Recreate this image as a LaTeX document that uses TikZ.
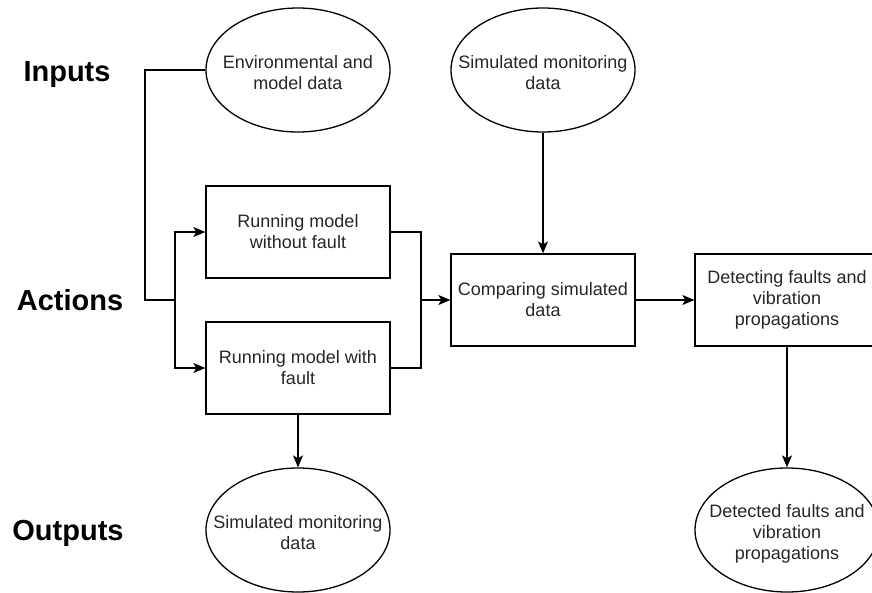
\documentclass[tikz,border=0pt]{standalone}
\usepackage{fontspec}
\setmainfont{Liberation Sans}
\usetikzlibrary{shapes.geometric,arrows.meta}
\newcommand{\ovaltext}[1]{\smash{\makebox[0pt]{\raisebox{-9pt}{\begin{tabular}{@{}c@{}}#1\end{tabular}}}}}
\begin{document}
\begin{tikzpicture}
[x=1pt,y=-1pt,
 boxdecorate/.style={shape=rectangle,draw,line width=1.3pt,minimum width=184pt,
   minimum height=92pt,inner sep=2pt,align=center,text=black!85,
   font=\fontsize{18}{21}\selectfont},%
 ovaldecorate/.style={shape=ellipse,draw,line width=1.3pt,minimum width=184pt,
   minimum height=124pt,inner sep=0pt,text=black!85,
   font=\fontsize{18}{21}\selectfont},%
 headdecorate/.style={anchor=base,font=\fontsize{29}{34}\selectfont\bfseries},%
 linedecorate/.style={-,line width=1.3pt},%
 arrowdecorate/.style={-{Stealth[length=12pt,width=10pt,inset=3pt]},line width=1.3pt}]
\useasboundingbox (0,0) rectangle (872,592);
%% row headings
\node at (67,81) [headdecorate] {Inputs};
\node at (70,310) [headdecorate] {Actions};
\node at (68,540) [headdecorate] {Outputs};
%% process boxes
\foreach \nodename/\x/\y/\words in {
  runfree/298/232/{Running model\\without fault},
  runfault/298/368/{Running model with\\fault},
  compare/543/300/{Comparing simulated\\data},
  detect/787/300/{Detecting faults and\\vibration\\propagations}}
{
  \node (\nodename) at (\x,\y) [boxdecorate] {\words};
}
%% data ellipses
\foreach \nodename/\x/\y/\words in {
  env/298/70/{Environmental and\\model data},
  simin/543/70/{Simulated monitoring\\data},
  simout/298/530/{Simulated monitoring\\data},
  detected/787/530/{Detected faults and\\vibration\\propagations}}
{
  \node (\nodename) at (\x,\y) [ovaldecorate] {\ovaltext{\words}};
}
%% junctions
\coordinate (drop) at (145,300);
\coordinate (split) at (175,300);
\coordinate (merge) at (421,300);
%% connectors
\draw[linedecorate] (env.west) -| (drop) -- (split);
\draw[arrowdecorate] (split) |- (runfree.west);
\draw[arrowdecorate] (split) |- (runfault.west);
\draw[linedecorate] (runfree.east) -| (merge);
\draw[linedecorate] (runfault.east) -| (merge);
\path
\foreach \startnode/\endnode in {merge/compare, simin/compare,
  compare/detect, detect/detected, runfault/simout}
{
  (\startnode) edge[arrowdecorate] (\endnode)
};
\end{tikzpicture}
\end{document}
